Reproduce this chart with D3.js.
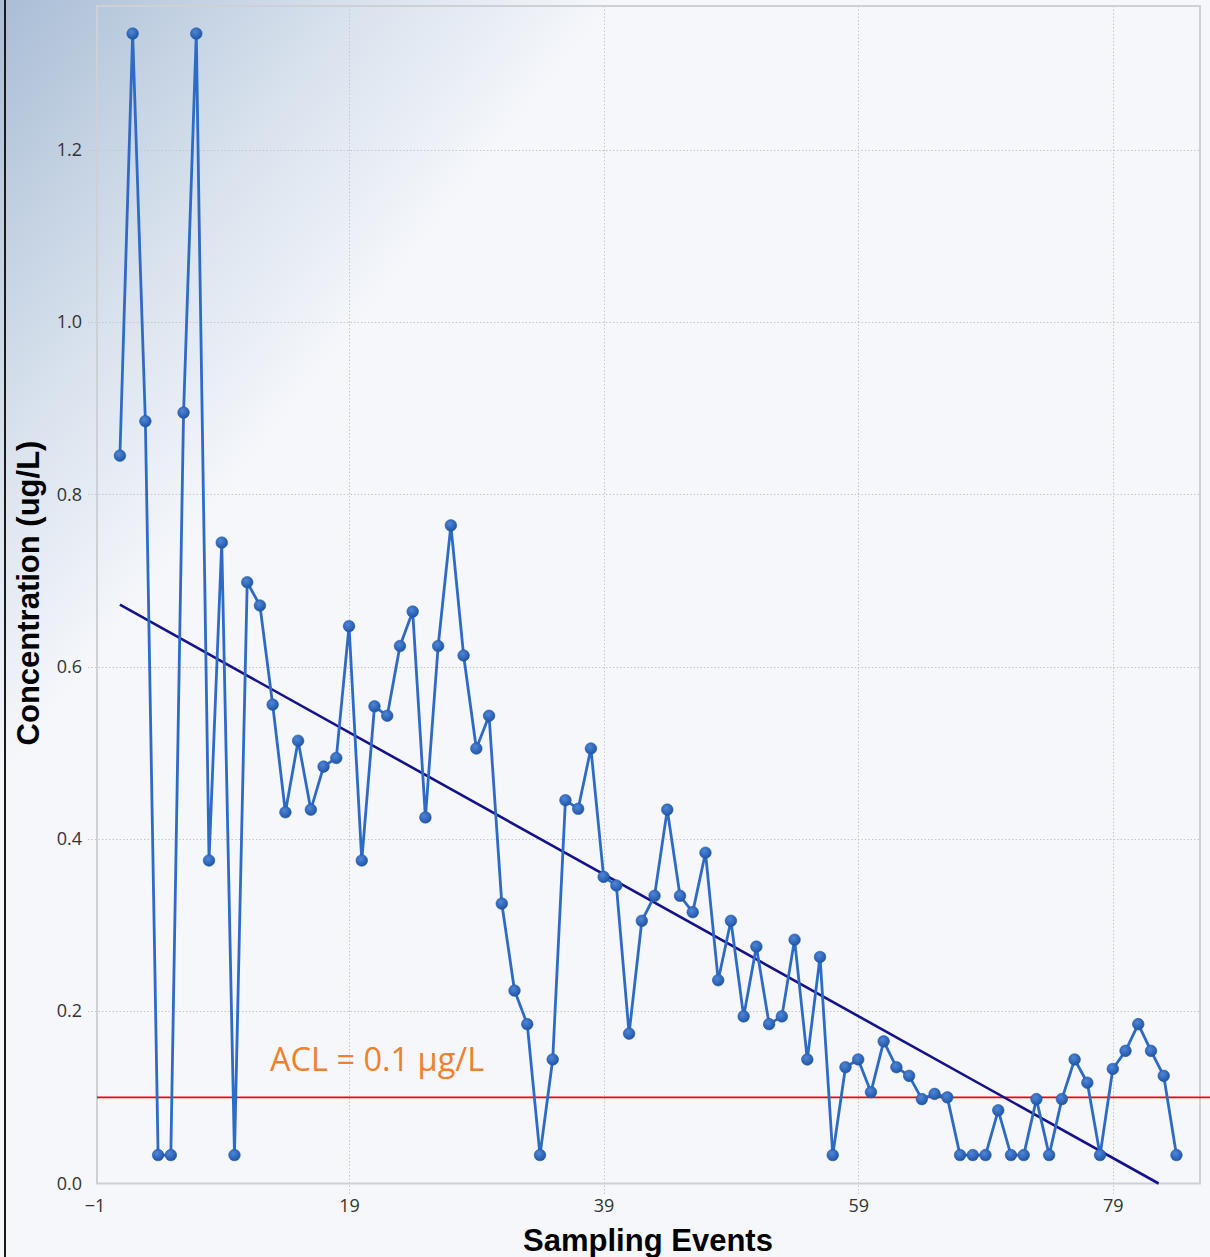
<!DOCTYPE html>
<html>
<head>
<meta charset="utf-8">
<script src="https://cdn.jsdelivr.net/npm/d3@7"></script>
<style>
  html, body { margin: 0; padding: 0; background: #f5f7fb; }
  svg { display: block; }
</style>
</head>
<body>
<svg id="chart" width="1210" height="1257"></svg>
<script>
// Concentration per sampling event (ug/L)
const events = d3.range(1, 85);
const concentration = [
  0.845, 1.335, 0.885, 0.033, 0.033, 0.895, 1.335, 0.375, 0.744, 0.033,
  0.698, 0.671, 0.556, 0.431, 0.514, 0.434, 0.484, 0.494, 0.647, 0.375,
  0.554, 0.543, 0.624, 0.664, 0.425, 0.624, 0.764, 0.613, 0.505, 0.543,
  0.325, 0.224, 0.185, 0.033, 0.144, 0.445, 0.435, 0.505, 0.356, 0.346,
  0.174, 0.305, 0.334, 0.434, 0.334, 0.315, 0.384, 0.236, 0.305, 0.194,
  0.275, 0.185, 0.194, 0.283, 0.144, 0.263, 0.033, 0.135, 0.144, 0.106,
  0.165, 0.135, 0.125, 0.098, 0.104, 0.100, 0.033, 0.033, 0.033, 0.085,
  0.033, 0.033, 0.098, 0.033, 0.098, 0.144, 0.117, 0.033, 0.133, 0.154,
  0.185, 0.154, 0.125, 0.033
];
// Linear trend endpoints (event, ug/L)
const trendEvents = [1, 82.6];
const trendValues = [0.672, 0.0];
// Action concentration limit
const aclValue = 0.1;
const aclLabel = "ACL = 0.1 \u00b5g/L";
// Axis ticks
const xTicks = [-1, 19, 39, 59, 79];
const yTicks = [0.0, 0.2, 0.4, 0.6, 0.8, 1.0, 1.2];

const svg = d3.select("#chart");
const W = 1210, H = 1257;
const plot = { left: 97, right: 1200, top: 6, bottom: 1183.5 };

// Background with the soft blue corner wash
const defs = svg.append("defs");
const bg = defs.append("linearGradient").attr("id", "bgWash")
  .attr("gradientUnits", "userSpaceOnUse")
  .attr("x1", 0).attr("y1", 0).attr("x2", 380).attr("y2", 300);
bg.append("stop").attr("offset", "0%").attr("stop-color", "#a9bdd5");
bg.append("stop").attr("offset", "55%").attr("stop-color", "#d6e0ec");
bg.append("stop").attr("offset", "100%").attr("stop-color", "#f5f7fb");

const dotGrad = defs.append("radialGradient").attr("id", "dotFill")
  .attr("cx", "40%").attr("cy", "35%").attr("r", "65%");
dotGrad.append("stop").attr("offset", "0%").attr("stop-color", "#4f86d6");
dotGrad.append("stop").attr("offset", "100%").attr("stop-color", "#1f56a8");

svg.append("rect").attr("width", W).attr("height", H).attr("fill", "url(#bgWash)");

// Left window edge
svg.append("line")
  .attr("x1", 5).attr("x2", 5).attr("y1", 0).attr("y2", H)
  .attr("stroke", "#1a1a1a").attr("stroke-width", 2);

const x = d3.scaleLinear().domain([-0.8, 85.85]).range([plot.left, plot.right]);
const y = d3.scaleLinear().domain([0, 1.367]).range([plot.bottom, plot.top]);

// Grid
const grid = svg.append("g").attr("stroke", "#c4c7cc").attr("stroke-width", 1)
  .attr("stroke-dasharray", "1.5,2");
grid.selectAll("line.h").data(yTicks.filter(d => d > 0)).join("line")
  .attr("class", "h")
  .attr("x1", 88).attr("x2", plot.right)
  .attr("y1", d => Math.round(y(d)) + 0.5).attr("y2", d => Math.round(y(d)) + 0.5);
grid.selectAll("line.v").data(xTicks.slice(1)).join("line")
  .attr("class", "v")
  .attr("x1", d => Math.round(x(d)) + 0.5).attr("x2", d => Math.round(x(d)) + 0.5)
  .attr("y1", plot.top).attr("y2", plot.bottom + 11);

// Plot frame
svg.append("rect")
  .attr("x", plot.left).attr("y", plot.top)
  .attr("width", plot.right - plot.left).attr("height", plot.bottom - plot.top)
  .attr("fill", "none").attr("stroke", "#cdd0d5").attr("stroke-width", 2);

// Axes (labels only)
const xAxis = d3.axisBottom(x).tickValues(xTicks).tickFormat(d3.format("d")).tickSize(0).tickPadding(16);
const yAxis = d3.axisLeft(y).tickValues(yTicks).tickFormat(d3.format(".1f")).tickSize(0).tickPadding(15);
const gx = svg.append("g").attr("transform", `translate(0,${plot.bottom})`).call(xAxis);
const gy = svg.append("g").attr("transform", `translate(${plot.left},0)`).call(yAxis);
[gx, gy].forEach(g => {
  g.select(".domain").remove();
  g.selectAll("text").attr("font-family", "'Open Sans', 'Noto Sans', sans-serif")
    .attr("font-size", 18).attr("fill", "#333");
});

// Axis titles
svg.append("text")
  .attr("x", 648).attr("y", 1251)
  .attr("text-anchor", "middle")
  .attr("font-family", "'Liberation Sans', Arial, sans-serif")
  .attr("font-weight", "bold").attr("font-size", 31).attr("fill", "#000")
  .text("Sampling Events");
svg.append("text")
  .attr("transform", `translate(39,593) rotate(-90)`)
  .attr("text-anchor", "middle")
  .attr("font-family", "'Liberation Sans', Arial, sans-serif")
  .attr("font-weight", "bold").attr("font-size", 31).attr("fill", "#000")
  .text("Concentration (ug/L)");

// ACL threshold
const yAcl = y(aclValue);
svg.append("line")
  .attr("x1", plot.left).attr("x2", W)
  .attr("y1", yAcl).attr("y2", yAcl)
  .attr("stroke", "#ff0000").attr("stroke-width", 1.6);
svg.append("text")
  .attr("x", 270).attr("y", yAcl - 26)
  .attr("font-family", "'Open Sans', 'Noto Sans', sans-serif")
  .attr("font-size", 32.5).attr("fill", "#f07f2e")
  .text(aclLabel);

// Trend line
const trend = trendEvents.map((e, i) => [e, trendValues[i]]);
svg.append("path")
  .datum(trend)
  .attr("d", d3.line().x(d => x(d[0])).y(d => y(d[1])))
  .attr("fill", "none").attr("stroke", "#15128a").attr("stroke-width", 2.6);

// Concentration series
const series = events.map((e, i) => [e, concentration[i]]);
svg.append("path")
  .datum(series)
  .attr("d", d3.line().x(d => x(d[0])).y(d => y(d[1])))
  .attr("fill", "none").attr("stroke", "#2e6bc6").attr("stroke-width", 2.8)
  .attr("stroke-linejoin", "round");
svg.append("g").selectAll("circle").data(series).join("circle")
  .attr("cx", d => x(d[0])).attr("cy", d => y(d[1])).attr("r", 5.8)
  .attr("fill", "url(#dotFill)").attr("stroke", "#2358a8").attr("stroke-width", 0.6);
</script>
</body>
</html>
